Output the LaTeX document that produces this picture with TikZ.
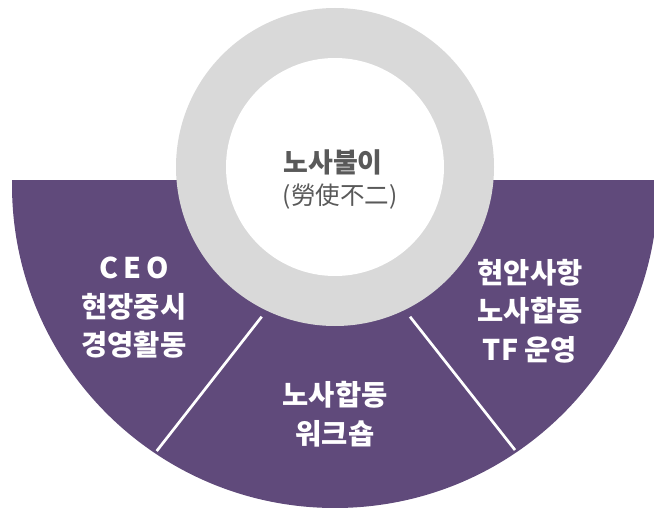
\documentclass[tikz,border=0pt]{standalone}
\usepackage{fontspec}
\newfontfamily\krfont{Noto Sans CJK KR}
\definecolor{purp}{HTML}{604A7B}
\definecolor{ringgray}{HTML}{D9D9D9}
\definecolor{txtgray}{HTML}{595959}
\begin{document}
\begin{tikzpicture}[x=1pt,y=-1pt,
  whitetxt/.style={text=white,font=\krfont\bfseries\fontsize{28.5}{38.5}\selectfont,align=center,inner sep=0pt},
  divider/.style={draw=white,line width=2.7pt}]
\useasboundingbox (0,0) rectangle (654,508);
% purple half disc
\begin{scope}
  \clip (0,180.5) rectangle (654,508);
  \fill[purp] (335,185) circle[radius=323];
\end{scope}
% ring
\fill[ringgray] (335,167) circle[radius=159];
\fill[white] (335,167) circle[radius=109];
% dividers
\coordinate (l1) at (261.7,316.7);
\coordinate (l2) at (156.7,451);
\coordinate (r1) at (410,316.7);
\coordinate (r2) at (515,450);
\draw[divider] (l1) -- (l2);
\draw[divider] (r1) -- (r2);
% center text
\node[text=txtgray,font=\krfont\bfseries\fontsize{27}{30}\selectfont,inner sep=0pt] (title) at (333,162) {노사불이};
\node[text=txtgray,font=\krfont\fontsize{24.5}{28}\selectfont,inner sep=0pt] (hanja) at (340,197) {(勞使不二)};
% segment texts
\node[whitetxt] (left) at (134,308) {C\kern5pt E\kern5pt O\\현장중시\\경영활동};
\node[whitetxt] (bottom) at (335,414) {노사합동\\워크숍};
\node[whitetxt] (right) at (530,311) {현안사항\\노사합동\\TF 운영};
\end{tikzpicture}
\end{document}
